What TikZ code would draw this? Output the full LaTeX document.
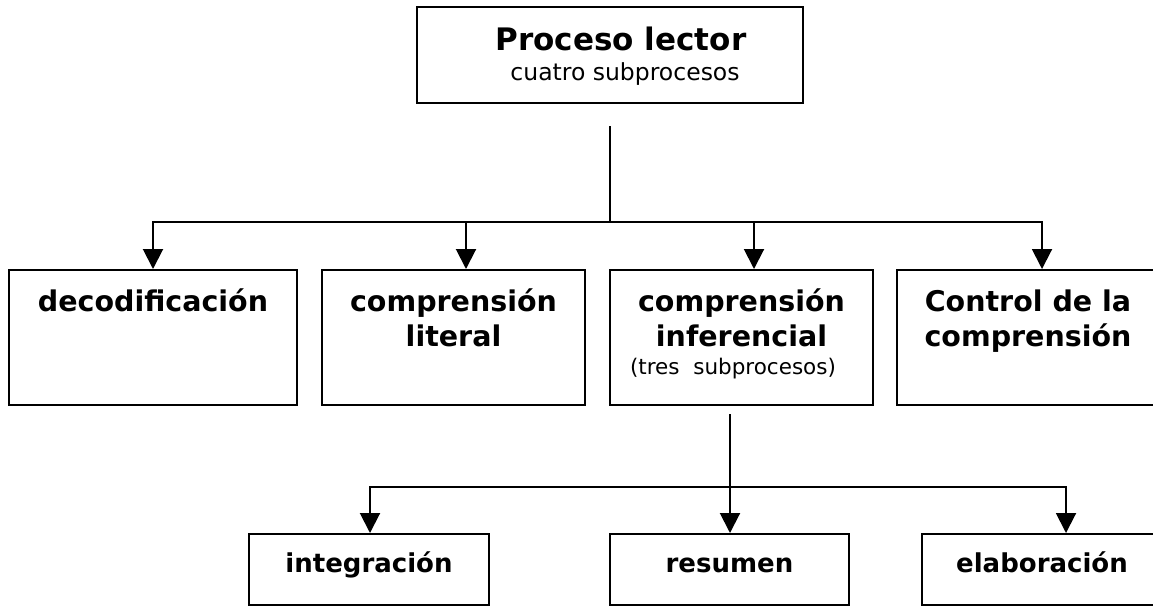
\documentclass[tikz,border=0pt]{standalone}
\usepackage{fontspec}
\setmainfont{DejaVu Sans}
\usetikzlibrary{arrows.meta}
\begin{document}
\begin{tikzpicture}[x=1pt,y=-1pt,
  box/.style={draw,line width=2pt,rectangle,inner sep=0pt,minimum height=#1},
  box/.default=135pt,
  lbl/.style={inner sep=0pt,anchor=base},
  big/.style={lbl,font=\fontsize{31}{31}\selectfont\bfseries},
  mid/.style={lbl,font=\fontsize{28.5}{28.5}\selectfont\bfseries},
  sml/.style={lbl,font=\fontsize{26}{26}\selectfont\bfseries},
  sub/.style={lbl,font=\fontsize{23.5}{23.5}\selectfont},
  subs/.style={lbl,font=\fontsize{21.5}{21.5}\selectfont},
  conn/.style={line width=2pt},
  arr/.style={line width=2pt,-{Triangle[length=20pt,width=20pt]}}]
\useasboundingbox (0,0) rectangle (1153,606);
% boxes
\node[box=96pt,minimum width=386pt] (top) at (610,55) {};
\node[box,minimum width=288pt] (b1) at (153,337.5) {};
\node[box,minimum width=263pt] (b2) at (453.5,337.5) {};
\node[box,minimum width=263pt] (b3) at (741.5,337.5) {};
\node[box,minimum width=264pt] (b4) at (1029,337.5) {};
\node[box=71pt,minimum width=240pt] (c1) at (369,569.5) {};
\node[box=71pt,minimum width=239pt] (c2) at (729.5,569.5) {};
\node[box=71pt,minimum width=240pt] (c3) at (1042,569.5) {};
% texts
\node[big] (topa) at (621,50) {Proceso lector};
\node[sub] (topb) at (625,80) {cuatro subprocesos};
\node[mid] (b1a) at (153,311) {decodificación};
\node[mid] (b2a) at (453.5,311) {comprensión};
\node[mid] (b2b) at (453.5,346) {literal};
\node[mid] (b3a) at (741.5,311) {comprensión};
\node[mid] (b3b) at (741.5,346) {inferencial};
\node[subs] (b3c) at (733,374) {(tres\ \ subprocesos)};
\node[mid] (b4a) at (1028,311) {Control de la};
\node[mid] (b4b) at (1028,346) {comprensión};
\node[sml] (c1a) at (369,572) {integración};
\node[sml] (c2a) at (729.5,572) {resumen};
\node[sml] (c3a) at (1042,572) {elaboración};
% connectors
\coordinate (s1) at (610,126);
\coordinate (j1) at (610,222);
\draw[conn] (s1) -- (j1);
\draw[arr] (j1) -| (b1.north);
\draw[arr] (j1) -| ([xshift=12.5pt]b2.north);
\draw[arr] (j1) -| ([xshift=12.5pt]b3.north);
\draw[arr] (j1) -| ([xshift=13pt]b4.north);
\coordinate (s2) at (730,414);
\coordinate (j2) at (730,487);
\draw[arr] (s2) -- ([xshift=0.5pt]c2.north);
\draw[arr] (j2) -| ([xshift=1pt]c1.north);
\draw[arr] (j2) -| ([xshift=24pt]c3.north);
\end{tikzpicture}
\end{document}
